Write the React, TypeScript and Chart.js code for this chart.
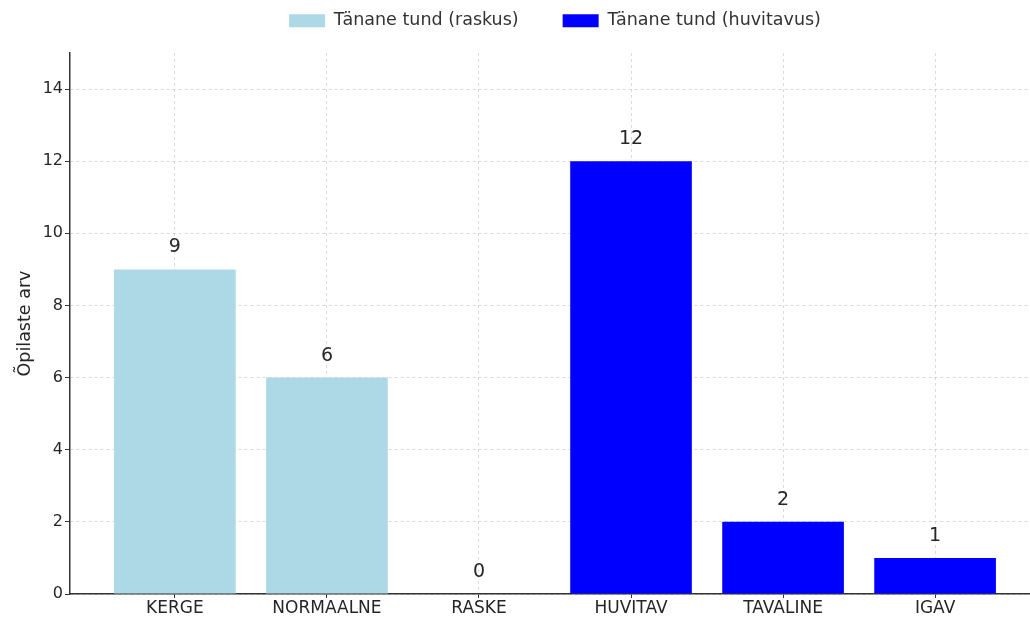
import React, { useEffect, useRef } from "react";
import { Chart, registerables } from "chart.js";

Chart.register(...registerables);

const categories = ["KERGE", "NORMAALNE", "RASKE", "HUVITAV", "TAVALINE", "IGAV"];
const difficultyLabel = "Tänane tund (raskus)";
const interestLabel = "Tänane tund (huvitavus)";
const difficultyIndex = [0, 1, 2];
const difficultyValues = [9, 6, 0];
const interestIndex = [3, 4, 5];
const interestValues = [12, 2, 1];
const yTicks = [0, 2, 4, 6, 8, 10, 12, 14];
const yMax = 15;
const xMin = -0.69;
const xMax = 5.69;

const FONT = "'DejaVu Sans', sans-serif";

const valueLabels = {
  id: "valueLabels",
  afterDatasetsDraw(chart: any) {
    const ctx = chart.ctx;
    ctx.save();
    ctx.font = `19px ${FONT}`;
    ctx.fillStyle = "#262626";
    ctx.textAlign = "center";
    ctx.textBaseline = "middle";
    chart.data.datasets.forEach((ds: any, di: number) => {
      const meta = chart.getDatasetMeta(di);
      meta.data.forEach((el: any, i: number) => {
        const v = ds.data[i].y;
        ctx.fillText(String(v), el.x, el.y - 22);
      });
    });
    ctx.restore();
  },
};

export default function App() {
  const ref = useRef<HTMLCanvasElement | null>(null);
  useEffect(() => {
    if (!ref.current) return;
    const gridColor = "rgba(150,150,150,0.45)";
    const chart = new Chart(ref.current, {
      type: "bar",
      data: {
        datasets: [
          {
            label: difficultyLabel,
            data: difficultyIndex.map((x, i) => ({ x, y: difficultyValues[i] })),
            backgroundColor: "#ADD8E6",
            xAxisID: "x",
            yAxisID: "y",
            categoryPercentage: 0.8,
            barPercentage: 1,
          },
          {
            label: interestLabel,
            data: interestIndex.map((x, i) => ({ x, y: interestValues[i] })),
            backgroundColor: "#0000FF",
            xAxisID: "x",
            yAxisID: "y",
            categoryPercentage: 0.8,
            barPercentage: 1,
          },
        ],
      },
      options: {
        responsive: false,
        animation: false,
        layout: { padding: { top: -32, left: 0, right: 0, bottom: 0 } },
        plugins: {
          legend: {
            position: "top",
            fullSize: false,
            labels: {
              font: { family: FONT, size: 17.5 },
              color: "#333",
              boxWidth: 36,
              boxHeight: 13,
              padding: 44,
            },
          },
          tooltip: { enabled: false },
        },
        scales: {
          x: {
            type: "linear",
            position: "bottom",
            min: xMin,
            max: xMax,
            offset: false,
            stacked: true,
            z: 1,
            afterBuildTicks: (axis: any) => {
              axis.ticks = categories.map((_, i) => ({ value: i }));
            },
            afterFit: (s: any) => {
              s.height = 28;
            },
            ticks: {
              autoSkip: false,
              maxRotation: 0,
              padding: 0,
              color: "#262626",
              font: { family: FONT, size: 17 },
              callback: (v: any) => categories[Math.round(Number(v))] ?? "",
            },
            grid: {
              offset: false,
              color: gridColor,
              lineWidth: 0.8,
              tickLength: 4,
              tickColor: "#333",
              tickWidth: 1,
            },
            border: { display: true, color: "#333", width: 1.5, dash: [3, 3] },
          },
          y: {
            type: "linear",
            position: "left",
            min: 0,
            max: yMax,
            stacked: true,
            z: 1,
            afterBuildTicks: (axis: any) => {
              axis.ticks = yTicks.map((v) => ({ value: v }));
            },
            afterFit: (s: any) => {
              s.width = 70;
            },
            ticks: {
              padding: 2,
              color: "#262626",
              font: { family: FONT, size: 16 },
            },
            grid: {
              color: gridColor,
              lineWidth: 0.8,
              tickLength: 5,
              tickColor: "#333",
              tickWidth: 1,
            },
            border: { display: true, color: "#333", width: 1.5, dash: [3, 3] },
            title: {
              display: true,
              text: "Õpilaste arv",
              color: "#262626",
              font: { family: FONT, size: 17.5 },
              padding: { top: 15, bottom: 0 },
            },
          },
          spacer: {
            type: "linear",
            position: "top",
            display: true,
            grid: { display: false, drawTicks: false },
            border: { display: false },
            ticks: { display: false },
            afterFit: (s: any) => {
              s.height = 13.5;
            },
          },
        },
      } as any,
      plugins: [valueLabels],
    });
    return () => chart.destroy();
  }, []);
  return (
    <div
      style={{
        position: "absolute",
        left: 0,
        top: 0,
        width: 1030,
        height: 622,
        overflow: "hidden",
        background: "#fff",
      }}
    >
      <canvas ref={ref} width={1040} height={622} style={{ display: "block" }} />
    </div>
  );
}
